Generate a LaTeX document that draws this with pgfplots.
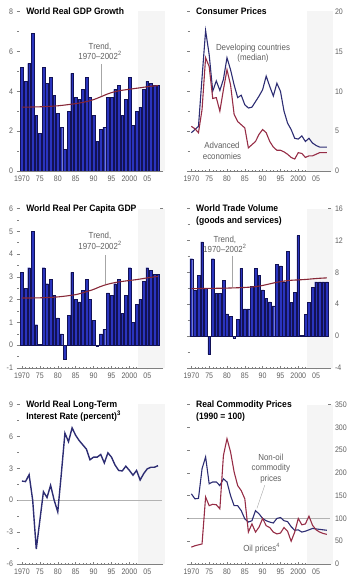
\documentclass[border=0pt]{standalone}
\usepackage{pgfplots}
\usepackage{pgfplotstable}
\pgfplotsset{compat=1.18}
\usepackage{fontspec}
\setmainfont{Liberation Sans}[FakeStretch=0.9]
\newfontfamily\condfont{Liberation Sans}[FakeStretch=0.88]
\newfontfamily\titlefont{Liberation Sans}[FakeStretch=0.92]

\definecolor{barfill}{RGB}{42,52,190}
\definecolor{baredge}{RGB}{18,18,85}
\definecolor{trendc}{RGB}{135,40,55}
\definecolor{navyc}{RGB}{45,45,115}
\definecolor{maroonc}{RGB}{150,45,70}
\definecolor{txtgray}{RGB}{95,95,95}
\definecolor{shadec}{RGB}{245,245,245}

\pgfplotstableread{
yr   gdp  pc    trade cpia cpid ir    nonoil oil
1970 5.2  3.2   9.7   5.6  4.8  1.8   154  37
1971 4.5  2.5   5.7   5.3  5.2  1.75  143  40
1972 5.4  3.4   7.6   4.8  5.6  2.4   144  42
1973 6.9  5.0   11.8  7.7  11.7 0.0   209  44
1974 2.8  0.9   6.0   14.2 17.6 -4.6  235  147
1975 1.9  0.05  -2.3  13.1 14.6 -1.9  176  128
1976 5.2  3.4   9.7   9.1  10.0 0.8   180  131
1977 4.4  2.7   5.4   9.2  11.3 0.25  180  130
1978 4.7  2.9   5.4   7.5  10.1 1.4   172  121
1979 3.8  2.2   7.0   10.2 11.5 0.0   187  238
1980 2.9  1.2   2.8   12.7 14.2 -1.1  180  275
1981 2.2  0.5   2.5   10.8 12.7 2.5   150  246
1982 1.1  -0.6  -0.2  7.1  10.8 6.3   128  202
1983 3.0  1.3   2.1   6.2  9.2  5.5   128  172
1984 4.9  3.2   8.5   5.8  9.5  6.8   117  161
1985 3.7  2.0   3.4   5.4  8.3  6.1   99   143
1986 3.6  1.9   3.4   2.9  7.9  5.6   92   70
1987 4.1  2.4   6.2   3.3  8.0  5.2   95   88
1988 4.7  2.9   8.5   3.7  8.7  4.8   117  70
1989 3.7  2.0   7.6   4.6  9.4  3.8   110  81
1990 2.8  1.1   5.8   5.2  10.2 4.05  100  100
1991 1.5  -0.05 4.7   4.8  11.9 4.05  95   84
1992 2.1  0.5   4.3   3.7  10.6 4.3   92   80
1993 2.2  0.7   3.8   3.0  9.4  3.5   90   70
1994 3.7  2.3   9.0   2.6  11.0 4.45  100  66
1995 3.7  2.2   8.8   2.6  10.0 4.05  102  68
1996 4.1  2.7   6.8   2.4  7.5  3.3   95   80
1997 4.3  2.9   10.6  2.1  6.0  2.8   93   72
1998 2.8  1.4   4.2   1.7  5.2  2.75  82   50
1999 3.6  2.2   5.5   1.5  4.1  3.2   74   70
2000 4.7  3.4   12.6  2.3  4.0  2.8   75   100
2001 2.3  1.0   0.1   2.2  4.4  2.35  70   86
2002 3.0  1.8   2.7   1.7  3.7  2.8   72   88
2003 3.2  2.0   4.2   1.9  4.1  1.9   75   105
2004 4.1  2.8   6.1   1.9  3.5  2.5   78   85
2005 4.5  3.4   6.8   2.1  3.2  2.95  77   75
2006 4.4  3.3   6.8   2.3  3.0  3.1   76   70
2007 4.3  3.1   6.8   2.3  3.0  3.1   75   67
2008 4.3  3.1   6.8   2.3  3.0  3.25  74   65
}\data

\pgfplotsset{
  panel/.style={
    scale only axis, height=159.5pt,
    axis line style={draw=none},
    tick align=center,
    major tick length=3pt, minor tick length=2pt,
    tick style={gray, line width=0.4pt},
    xtick pos=left,
    xtick={1970,1975,...,2005},
    xticklabels={1970,75,80,85,90,95,2000,05},
    minor x tick num=4,
    ticklabel style={font=\condfont\fontsize{8}{9}\selectfont, text=txtgray},
    /pgf/number format/assume math mode=true,
    clip=false,
  },
  leftpanel/.style={panel, width=144pt, xmin=1968.9, xmax=2009.1},
  rightpanel/.style={panel, width=141.5pt, xmin=1969.2, xmax=2008.9, yticklabel pos=right},
  bars/.style={ybar, bar width=0.76, fill=barfill, draw=baredge, line width=0.35pt},
}
\tikzset{
  ttl/.style={anchor=north west, inner sep=0, align=left, font=\titlefont\bfseries\fontsize{9.3}{11.5}\selectfont, yshift=3.6pt},
  ann/.style={inner sep=0, align=center, text=txtgray, font=\fontsize{8.8}{10.5}\selectfont},
}

\newcommand{\projshade}{\fill[shadec] ({axis cs:2002.5,0}|-{rel axis cs:0,0}) rectangle (rel axis cs:1.02,1);}
\newcommand{\bottomline}{\draw[gray, line width=0.5pt] (rel axis cs:0,0) -- (rel axis cs:1,0);}

\begin{document}
\begin{tikzpicture}[x=1pt,y=1pt]
\path[use as bounding box] (0,0) rectangle (350,582);

% Panel 1: World Real GDP Growth
\begin{axis}[leftpanel, at={(18pt,411pt)}, anchor=south west,
  ymin=0, ymax=8, ytick={0,2,...,8}, minor y tick num=1]
\projshade
\addplot[bars] table[x=yr,y=gdp] {\data};
\addplot[trendc, line width=1.1pt, smooth] coordinates {(1970,3.2)(1975,3.22)(1980,3.27)(1985,3.38)(1988,3.48)(1990,3.58)(1992,3.72)(1994,3.87)(1996,3.98)(1998,4.05)(2000,4.1)(2002,4.15)(2004,4.2)(2006,4.25)(2008,4.28)};
\draw[gray!70, line width=0.4pt] (axis cs:1992.1,5.35) -- (axis cs:1992.1,3.78);
\node[ann] at (axis cs:1991.8,6.0) {Trend,\\1970--2002\textsuperscript{2}};
\bottomline
\node[ttl] at (rel axis cs:0.056,1) {World Real GDP Growth};
\end{axis}

% Panel 2: Consumer Prices
\begin{axis}[rightpanel, at={(188.5pt,411pt)}, anchor=south west,
  ymin=0, ymax=20, ytick={0,5,...,20}, minor y tick num=1]
\projshade
\addplot[navyc, line width=1.1pt] table[x=yr,y=cpid] {\data};
\addplot[maroonc, line width=1.1pt] table[x=yr,y=cpia] {\data};
\node[ann] at (axis cs:1987.3,14.75) {Developing countries\\(median)};
\node[ann] at (axis cs:1978.6,2.5) {Advanced\\economies};
\bottomline
\node[ttl] at (rel axis cs:0.053,1) {Consumer Prices};
\end{axis}

% Panel 3: World Real Per Capita GDP
\begin{axis}[leftpanel, at={(18pt,214pt)}, anchor=south west,
  ymin=-1, ymax=6, ytick={-1,0,...,6}, minor y tick num=1]
\projshade
\addplot[bars] table[x=yr,y=pc] {\data};
\addplot[trendc, line width=1.1pt, smooth] coordinates {(1970,2.07)(1975,2.08)(1980,2.12)(1985,2.22)(1988,2.35)(1990,2.45)(1992,2.58)(1994,2.68)(1996,2.75)(1998,2.8)(2000,2.84)(2002,2.88)(2004,2.93)(2006,2.98)(2008,3.02)};
\draw[gray!70, line width=0.4pt] (axis cs:1993.2,3.97) -- (axis cs:1993.2,2.7);
\node[ann] at (axis cs:1991.8,4.59) {Trend,\\1970--2002\textsuperscript{2}};
\bottomline
\node[ttl] at (rel axis cs:0.056,1) {World Real Per Capita GDP};
\end{axis}

% Panel 4: World Trade Volume
\begin{axis}[rightpanel, at={(188.5pt,214pt)}, anchor=south west,
  ymin=-4, ymax=16, ytick={-4,0,...,16}, minor y tick num=1]
\projshade
\addplot[bars] table[x=yr,y=trade] {\data};
\addplot[trendc, line width=1.1pt, smooth] coordinates {(1970,5.95)(1975,5.98)(1980,6.02)(1985,6.1)(1988,6.2)(1990,6.35)(1992,6.55)(1994,6.75)(1996,6.9)(1998,7.0)(2000,7.05)(2002,7.1)(2004,7.18)(2006,7.25)(2008,7.3)};
\draw[gray!70, line width=0.4pt] (axis cs:1981.5,10.1) -- (axis cs:1981.5,6.1);
\node[ann] at (axis cs:1979.4,11.5) {Trend,\\1970--2002\textsuperscript{2}};
\bottomline
\node[ttl] at (rel axis cs:0.053,1) {World Trade Volume\\(goods and services)};
\end{axis}

% Panel 5: World Real Long-Term Interest Rate
\begin{axis}[leftpanel, at={(18pt,18pt)}, anchor=south west,
  ymin=-6, ymax=9, ytick={-6,-3,...,9}, minor y tick num=1]
\projshade
\draw[gray!60, line width=0.6pt] ({rel axis cs:0,0}|-{axis cs:1970,0}) -- ({rel axis cs:1,0}|-{axis cs:1970,0});
\addplot[navyc, line width=1.4pt] table[x=yr,y=ir] {\data};
\bottomline
\node[ttl] at (rel axis cs:0.056,1) {World Real Long-Term\\Interest Rate (percent)\textsuperscript{3}};
\end{axis}

% Panel 6: Real Commodity Prices
\begin{axis}[rightpanel, at={(188.5pt,18pt)}, anchor=south west,
  ymin=0, ymax=350, ytick={0,50,...,350}]
\projshade
\draw[gray!60, line width=0.6pt] ({rel axis cs:0,0}|-{axis cs:1970,100}) -- ({rel axis cs:1,0}|-{axis cs:1970,100});
\addplot[navyc, line width=1.1pt] table[x=yr,y=nonoil] {\data};
\addplot[maroonc, line width=1.1pt] table[x=yr,y=oil] {\data};
\draw[gray!70, line width=0.4pt] (axis cs:1990.6,173) -- (axis cs:1988.4,122);
\node[ann] at (axis cs:1992.3,210) {Non-oil\\commodity\\prices};
\node[ann] at (axis cs:1989.7,35) {Oil prices\textsuperscript{4}};
\bottomline
\node[ttl] at (rel axis cs:0.053,1) {Real Commodity Prices\\(1990 = 100)};
\end{axis}
\end{tikzpicture}
\end{document}
